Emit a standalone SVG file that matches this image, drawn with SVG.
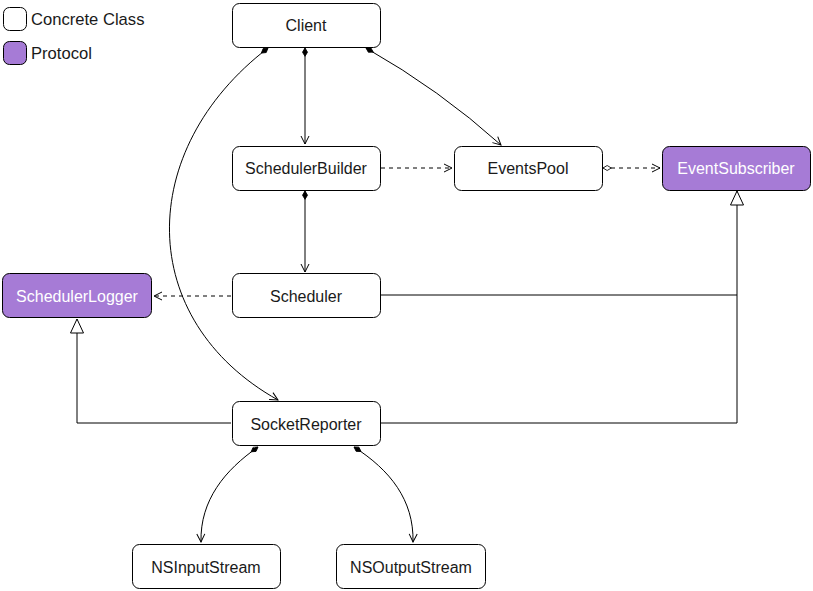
<svg xmlns="http://www.w3.org/2000/svg" width="813" height="591" viewBox="0 0 813 591">
  <style>
    .box { fill: #ffffff; stroke: #000000; stroke-width: 1; }
    .proto { fill: #a67bd6; stroke: #000000; stroke-width: 1; }
    .lbl { font-family: "Liberation Sans", Arial, sans-serif; font-size: 16px; fill: #1a1a1a; text-anchor: middle; }
    .plbl { font-family: "Liberation Sans", Arial, sans-serif; font-size: 16px; fill: #ffffff; text-anchor: middle; }
    .leg { font-family: "Liberation Sans", Arial, sans-serif; font-size: 16.6px; fill: #1a1a1a; }
    .edge { fill: none; stroke: #000000; stroke-width: 1; }
    .dash { stroke-dasharray: 4 4; }
  </style>
  <defs>
    <marker id="arrow" viewBox="0 0 10 10" refX="9" refY="5" markerWidth="10" markerHeight="10" markerUnits="userSpaceOnUse" orient="auto">
      <path d="M1,1 L9,5 L1,9" fill="none" stroke="#000" stroke-width="1"/>
    </marker>
    <marker id="diamond" viewBox="0 0 12 8" refX="1" refY="4" markerWidth="10" markerHeight="7" markerUnits="userSpaceOnUse" orient="auto">
      <path d="M1,4 L6,1 L11,4 L6,7 Z" fill="#000" stroke="#000" stroke-width="1"/>
    </marker>
    <marker id="odiamond" viewBox="0 0 12 8" refX="1" refY="4" markerWidth="10" markerHeight="7" markerUnits="userSpaceOnUse" orient="auto">
      <path d="M1,4 L6,1 L11,4 L6,7 Z" fill="#fff" stroke="#000" stroke-width="1"/>
    </marker>
    <marker id="tri" viewBox="0 0 16 16" refX="15" refY="8" markerWidth="16" markerHeight="16" markerUnits="userSpaceOnUse" orient="auto">
      <path d="M1,1.5 L15,8 L1,14.5 Z" fill="#fff" stroke="#000" stroke-width="1"/>
    </marker>
  </defs>

  <!-- legend -->
  <g id="legend">
    <rect class="box" x="3.5" y="7.5" width="23" height="23" rx="6"/>
    <text class="leg" x="31" y="25">Concrete Class</text>
    <rect class="proto" x="3.5" y="41.5" width="23" height="23" rx="6"/>
    <text class="leg" x="31" y="59">Protocol</text>
  </g>

  <!-- connectors -->
  <g id="connectors">
    <path class="edge" d="M305,48 L305,144" marker-start="url(#diamond)" marker-end="url(#arrow)"/>
    <path class="edge" d="M366,48 Q440,90 501,145" marker-start="url(#diamond)" marker-end="url(#arrow)"/>
    <path class="edge" d="M268,48 C135,150 135,320 278,400" marker-start="url(#diamond)" marker-end="url(#arrow)"/>
    <path class="edge dash" d="M381,168 L452,168" marker-end="url(#arrow)"/>
    <path class="edge dash" d="M603,168 L660,168" marker-start="url(#odiamond)" marker-end="url(#arrow)"/>
    <path class="edge" d="M305,191 L305,272" marker-start="url(#diamond)" marker-end="url(#arrow)"/>
    <path class="edge dash" d="M231,296 L154,296" marker-end="url(#arrow)"/>
    <path class="edge" d="M381,295 L737,295 L737,191" marker-end="url(#tri)"/>
    <path class="edge" d="M381,423 L737,423 L737,295"/>
    <path class="edge" d="M231,423 L77,423 L77,319" marker-end="url(#tri)"/>
    <path class="edge" d="M258,447 C225,470 200,500 201,542" marker-start="url(#diamond)" marker-end="url(#arrow)"/>
    <path class="edge" d="M354,447 C390,470 414,500 413,542" marker-start="url(#diamond)" marker-end="url(#arrow)"/>
  </g>

  <!-- nodes -->
  <g id="client">
    <rect class="box" x="232.5" y="3.5" width="148" height="44" rx="7"/>
    <text class="lbl" x="306" y="31">Client</text>
  </g>
  <g id="schedulerBuilder">
    <rect class="box" x="232.5" y="146.5" width="148" height="44" rx="7"/>
    <text class="lbl" x="306" y="174">SchedulerBuilder</text>
  </g>
  <g id="eventsPool">
    <rect class="box" x="454.5" y="146.5" width="148" height="44" rx="7"/>
    <text class="lbl" x="528" y="174">EventsPool</text>
  </g>
  <g id="eventSubscriber">
    <rect class="proto" x="662.5" y="146.5" width="148" height="44" rx="7"/>
    <text class="plbl" x="736" y="174">EventSubscriber</text>
  </g>
  <g id="schedulerLogger">
    <rect class="proto" x="2.5" y="273.5" width="149" height="44" rx="7"/>
    <text class="plbl" x="77" y="302">SchedulerLogger</text>
  </g>
  <g id="scheduler">
    <rect class="box" x="232.5" y="273.5" width="148" height="44" rx="7"/>
    <text class="lbl" x="306" y="302">Scheduler</text>
  </g>
  <g id="socketReporter">
    <rect class="box" x="232.5" y="401.5" width="148" height="44" rx="7"/>
    <text class="lbl" x="306" y="430">SocketReporter</text>
  </g>
  <g id="nsInputStream">
    <rect class="box" x="132.5" y="544.5" width="148" height="44" rx="7"/>
    <text class="lbl" x="206" y="573">NSInputStream</text>
  </g>
  <g id="nsOutputStream">
    <rect class="box" x="336.5" y="544.5" width="149" height="44" rx="7"/>
    <text class="lbl" x="411" y="573">NSOutputStream</text>
  </g>
</svg>
